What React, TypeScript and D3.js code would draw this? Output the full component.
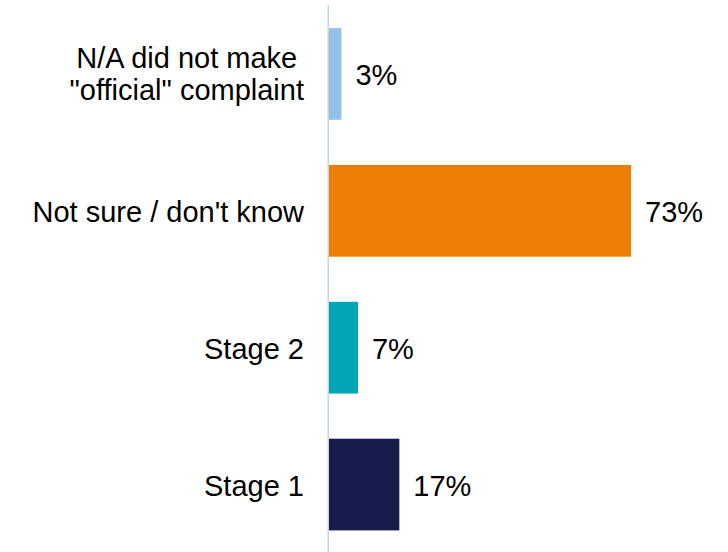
import React from "react";
import * as d3 from "d3";

const categories = [
  ["N/A did not make", "\"official\" complaint"],
  ["Not sure / don't know"],
  ["Stage 2"],
  ["Stage 1"],
];
const values = [3, 73, 7, 17];
const barColors = ["#92c0e8", "#ed7d04", "#00a6b6", "#161d4d"];

const W = 728;
const H = 552;
const FONT = "Liberation Sans, Arial, sans-serif";
const FS = 29;

function textWidth(s: string): number {
  const c = document.createElement("canvas").getContext("2d");
  if (!c) return s.length * FS * 0.5;
  c.font = `${FS}px ${FONT}`;
  return c.measureText(s).width;
}

export default function App() {
  const x0 = 329;
  const x = d3.scaleLinear().domain([0, 73]).range([x0, 631]);
  const y = d3
    .scaleBand<number>()
    .domain(d3.range(categories.length))
    .range([5.5, 553])
    .paddingInner(0.33)
    .paddingOuter(0.165);
  const labelRight = 304;

  return (
    <svg
      width={W}
      height={H}
      style={{ position: "absolute", left: 0, top: 0, background: "#fff" }}
      fontFamily={FONT}
      fontSize={FS}
    >
      {values.map((v, i) => {
        const yb = y(i)!;
        const cy = yb + y.bandwidth() / 2;
        const lines = categories[i];
        let label;
        if (lines.length === 1) {
          label = (
            <text x={labelRight} y={cy + 1} dy="0.35em" textAnchor="end" fill="#000">
              {lines[0]}
            </text>
          );
        } else {
          const bw = Math.max(...lines.map(textWidth));
          const cx = labelRight - bw / 2;
          label = (
            <text textAnchor="middle" fill="#000">
              {lines.map((l, k) => (
                <tspan key={k} x={cx} y={cy - 6 + k * 32}>
                  {l}
                </tspan>
              ))}
            </text>
          );
        }
        return (
          <g key={i}>
            <rect x={x(0)} y={yb} width={x(v) - x(0)} height={y.bandwidth()} fill={barColors[i]} />
            {label}
            <text x={x(v) + 14} y={cy + 1} dy="0.35em" fill="#000">
              {`${v}%`}
            </text>
          </g>
        );
      })}
      <line x1={328.25} x2={328.25} y1={5} y2={H} stroke="#c7d4e8" strokeWidth={1.5} />
    </svg>
  );
}
